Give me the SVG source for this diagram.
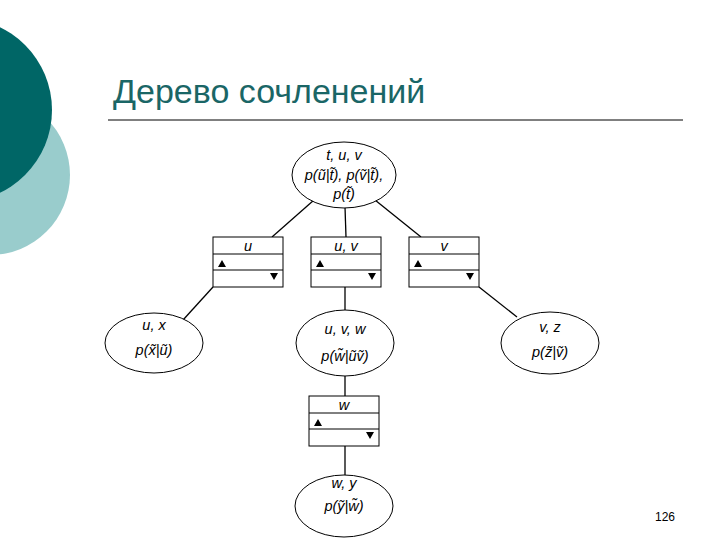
<svg xmlns="http://www.w3.org/2000/svg" width="720" height="540" viewBox="0 0 720 540">
<style>
.n{fill:#fff;stroke:#000;stroke-width:1}
.t{font-family:"Liberation Sans",Arial,sans-serif;font-style:italic;font-size:14.5px;text-anchor:middle}
.c line{stroke:#000;stroke-width:1.3}
</style>
<defs>
<g id="sep">
<rect class="n" x="0" y="0" width="70" height="50"/>
<line x1="0" y1="17" x2="70" y2="17" stroke="#000"/>
<line x1="0" y1="33" x2="70" y2="33" stroke="#000"/>
<path d="M5 30 L9 23 L13 30Z M57 36 L65 36 L61 43Z" fill="#000"/>
</g>
</defs>
<rect width="720" height="540" fill="#fff"/>
<circle cx="-10" cy="175" r="80" fill="#99cccc"/>
<circle cx="-40" cy="110" r="92" fill="#006666"/>
<text x="113" y="103" font-family="Liberation Sans,Arial,sans-serif" font-size="34" fill="#1a6666">Дерево сочленений</text>
<line x1="108" y1="120" x2="683" y2="120" stroke="#000" stroke-width="1"/>
<text x="665" y="521" font-family="Liberation Sans,Arial,sans-serif" font-size="12" text-anchor="middle">126</text>
<g class="c">
<line x1="314" y1="200" x2="272" y2="237"/>
<line x1="345" y1="207" x2="346" y2="237"/>
<line x1="375" y1="200" x2="421" y2="237"/>
<line x1="213" y1="287" x2="183" y2="320"/>
<line x1="345" y1="287" x2="345" y2="310"/>
<line x1="479" y1="287" x2="517" y2="317"/>
<line x1="345" y1="376" x2="345" y2="396"/>
<line x1="345" y1="446" x2="345" y2="475"/>
</g>
<g id="root"><ellipse class="n" cx="344" cy="175" rx="52" ry="33"/>
<text class="t" x="344" y="160">t, u, v</text><text class="t" x="344" y="180">p(ũ|t̃), p(ṽ|t̃),</text><text class="t" x="344" y="199">p(t̃)</text></g>
<g id="sep-u"><use href="#sep" x="213" y="237"/><text class="t" x="248" y="251">u</text></g>
<g id="sep-uv"><use href="#sep" x="311" y="237"/><text class="t" x="346" y="251">u, v</text></g>
<g id="sep-v"><use href="#sep" x="409" y="237"/><text class="t" x="444" y="251">v</text></g>
<g id="ux"><ellipse class="n" cx="154" cy="343" rx="49" ry="30"/><text class="t" x="154" y="330">u, x</text><text class="t" x="154" y="355">p(x̃|ũ)</text></g>
<g id="uvw"><ellipse class="n" cx="345" cy="343" rx="49" ry="33"/><text class="t" x="345" y="334">u, v, w</text><text class="t" x="345" y="361">p(w̃|ũṽ)</text></g>
<g id="vz"><ellipse class="n" cx="550" cy="343" rx="49" ry="31"/><text class="t" x="550" y="332">v, z</text><text class="t" x="550" y="357">p(z̃|ṽ)</text></g>
<g id="sep-w"><use href="#sep" x="309" y="396"/><text class="t" x="344" y="410">w</text></g>
<g id="wy"><ellipse class="n" cx="344" cy="506" rx="49" ry="31"/><text class="t" x="344" y="488">w, y</text><text class="t" x="344" y="511">p(ỹ|w̃)</text></g>
</svg>
